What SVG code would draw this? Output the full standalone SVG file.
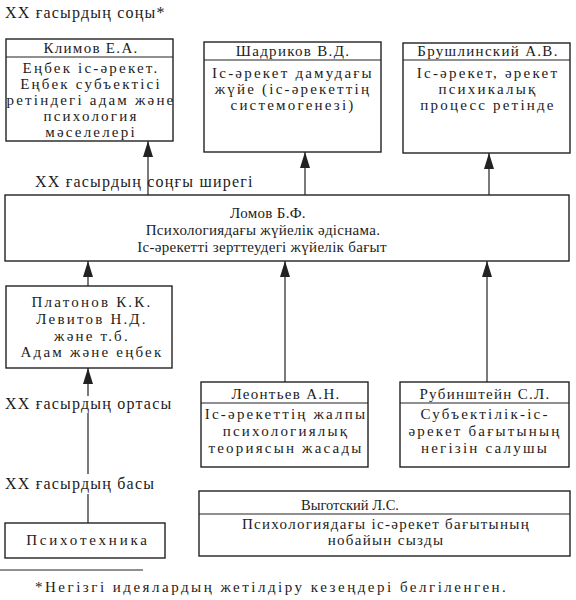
<svg xmlns="http://www.w3.org/2000/svg" width="576" height="600" viewBox="0 0 576 600">
<style>
  text { font-family: "Liberation Serif", "Times New Roman", serif; font-size: 15px; fill: #1c1c1c; }
  .c { text-anchor: middle; }
  .b { letter-spacing: 2.2px; }
  .h { letter-spacing: 1.3px; }
  .lm { letter-spacing: 0.3px; }
  .vb { letter-spacing: 1.3px; }
  .vh { font-size: 14.5px; }
  .pt { letter-spacing: 2.8px; }
  .lab { font-size: 16px; letter-spacing: 1.2px; }
  .fn { letter-spacing: 2.5px; }
  .box { fill: #ffffff; stroke: #222; stroke-width: 1.4; }
  .div { stroke: #222; stroke-width: 1.2; fill: none; }
  .conn { stroke: #222; stroke-width: 1.2; fill: none; }
</style>
<defs>
  <marker id="arr" viewBox="0 0 16 10" refX="16" refY="5" markerWidth="16" markerHeight="10" markerUnits="userSpaceOnUse" orient="auto">
    <path d="M0,0 L16,5 L0,10 z" fill="#222"/>
  </marker>
</defs>
<rect width="576" height="600" fill="#ffffff"/>

<text class="lab" x="5" y="18">XX ғасырдың соңы*</text>
<text class="lab" x="35" y="187">XX ғасырдың соңғы ширегі</text>

<g id="connectors">
  <path class="conn" d="M148,195 L148,141" marker-end="url(#arr)"/>
  <path class="conn" d="M305,195 L305,152" marker-end="url(#arr)"/>
  <path class="conn" d="M489,195 L489,153" marker-end="url(#arr)"/>
  <path class="conn" d="M88,286 L88,261" marker-end="url(#arr)"/>
  <path class="conn" d="M285,382 L285,261" marker-end="url(#arr)"/>
  <path class="conn" d="M487,382 L487,261" marker-end="url(#arr)"/>
  <path class="conn" d="M88,523 L88,494 M88,474 L88,413 M88,396 L88,368" marker-end="url(#arr)"/>
</g>

<g id="klimov">
  <rect class="box" x="6" y="39" width="167" height="102"/>
  <line class="div" x1="6" y1="57" x2="173" y2="57"/>
  <text class="c h" x="91" y="53">Климов Е.А.</text>
  <text class="c b" x="91" y="73">Еңбек іс-әрекет.</text>
  <text class="c b" x="91" y="89">Еңбек субъектісі</text>
  <text class="c b" x="91" y="105">ретіндегі адам және</text>
  <text class="c b" x="91" y="121">психология</text>
  <text class="c b" x="91" y="137">мәселелері</text>
</g>

<g id="shadrikov">
  <rect class="box" x="204" y="42" width="177" height="110"/>
  <line class="div" x1="204" y1="60" x2="381" y2="60"/>
  <text class="c h" x="293" y="56">Шадриков В.Д.</text>
  <text class="c b" x="293" y="78">Іс-әрекет дамудағы</text>
  <text class="c b" x="293" y="94">жүйе (іс-әрекеттің</text>
  <text class="c b" x="293" y="110">системогенезі)</text>
</g>

<g id="brushlinsky">
  <rect class="box" x="403" y="43" width="167" height="110"/>
  <line class="div" x1="403" y1="60" x2="570" y2="60"/>
  <text class="c h" x="488" y="56">Брушлинский А.В.</text>
  <text class="c b" x="488" y="78">Іс-әрекет, әрекет</text>
  <text class="c b" x="488" y="94">психикалық</text>
  <text class="c b" x="488" y="110">процесс ретінде</text>
</g>

<g id="lomov">
  <rect class="box" x="5" y="195" width="564" height="66"/>
  <text class="c lm" x="268" y="218">Ломов Б.Ф.</text>
  <text class="c lm" x="263" y="235">Психологиядағы жүйелік әдіснама.</text>
  <text class="c lm" x="262" y="252">Іс-әрекетті зерттеудегі жүйелік бағыт</text>
</g>

<g id="platonov">
  <rect class="box" x="6" y="286" width="166" height="82"/>
  <text class="c b" x="92" y="307">Платонов К.К.</text>
  <text class="c b" x="92" y="324">Левитов Н.Д.</text>
  <text class="c b" x="92" y="341">және т.б.</text>
  <text class="c b" x="92" y="357">Адам және еңбек</text>
</g>

<text class="lab" x="5" y="409">XX ғасырдың ортасы</text>

<g id="leontiev">
  <rect class="box" x="201" y="382" width="167" height="85"/>
  <line class="div" x1="201" y1="403" x2="368" y2="403"/>
  <text class="c h" x="286" y="399">Леонтьев А.Н.</text>
  <text class="c b" x="286" y="419">Іс-әрекеттің жалпы</text>
  <text class="c b" x="286" y="436">психологиялық</text>
  <text class="c b" x="286" y="453">теориясын жасады</text>
</g>

<g id="rubinstein">
  <rect class="box" x="400" y="382" width="169" height="85"/>
  <line class="div" x1="400" y1="403" x2="569" y2="403"/>
  <text class="c h" x="485" y="399">Рубинштейн С.Л.</text>
  <text class="c b" x="485" y="419">Субъектілік-іс-</text>
  <text class="c b" x="485" y="436">әрекет бағытының</text>
  <text class="c b" x="485" y="453">негізін салушы</text>
</g>

<text class="lab" x="5" y="489">XX ғасырдың басы</text>

<g id="vygotsky">
  <rect class="box" x="199" y="491" width="371" height="65"/>
  <line class="div" x1="199" y1="514" x2="570" y2="514"/>
  <text class="c vh" x="350" y="510">Выготский Л.С.</text>
  <text class="c vb" x="386" y="529">Психологиядағы іс-әрекет бағытының</text>
  <text class="c vb" x="386" y="545">нобайын сызды</text>
</g>

<g id="psychotechnics">
  <rect class="box" x="5" y="523" width="160" height="35"/>
  <text class="c pt" x="88" y="545">Психотехника</text>
</g>

<line x1="0" y1="570" x2="143" y2="570" stroke="#222" stroke-width="1"/>
<text class="fn" x="35" y="592">*Негізгі идеялардың жетілдіру кезеңдері белгіленген.</text>
</svg>
